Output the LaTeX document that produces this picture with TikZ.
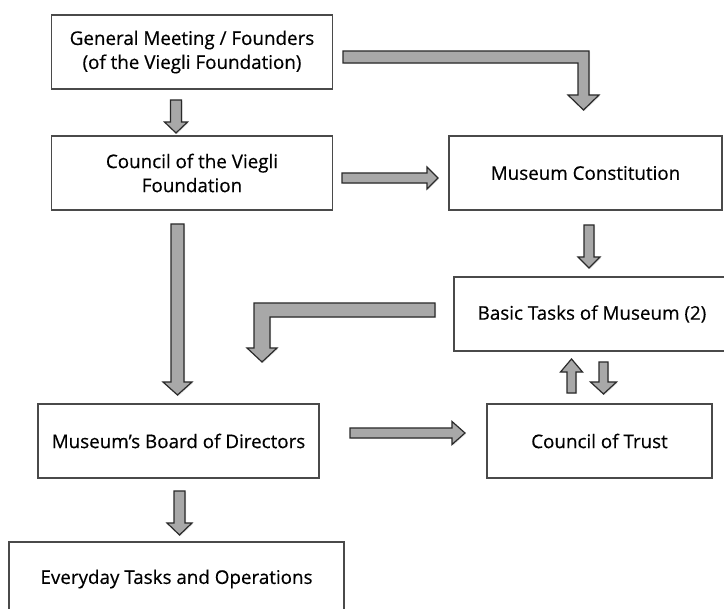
\documentclass[tikz,border=0pt]{standalone}
\usepackage{fontspec}
\setmainfont{Open Sans}
\newfontfamily\boxfont[FakeBold=0.45]{Open Sans}
\usetikzlibrary{shadows}
\definecolor{arrowfill}{HTML}{A8A8A8}
\definecolor{arrowline}{HTML}{2A2A2A}
\definecolor{boxline}{HTML}{4A4A4A}
\definecolor{txt}{HTML}{000000}
\tikzset{
  box/.style={draw=boxline, line width=1.1pt, fill=white, rectangle, align=center,
    text=txt, font=\boxfont\fontsize{18.8}{24}\selectfont, inner sep=0pt,
    drop shadow={opacity=0.18, shadow xshift=0.8pt, shadow yshift=-0.8pt}},
  blockarrow/.style={fill=arrowfill, draw=arrowline, line width=1.2pt, line join=miter,
    drop shadow={opacity=0.22, shadow xshift=1pt, shadow yshift=-1pt}}
}
% vertical block arrow: #1 x centre, #2 tail y, #3 head base y, #4 tip y, #5 shaft half, #6 head half
\newcommand\vblockarrow[6]{%
  \path[blockarrow] ({#1-#5},#2) -- ({#1+#5},#2) -- ({#1+#5},#3) -- ({#1+#6},#3) -- (#1,#4)
    -- ({#1-#6},#3) -- ({#1-#5},#3) -- cycle;}
% horizontal block arrow: #1 y centre, #2 tail x, #3 head base x, #4 tip x, #5 shaft half, #6 head half
\newcommand\hblockarrow[6]{%
  \path[blockarrow] (#2,{#1-#5}) -- (#3,{#1-#5}) -- (#3,{#1-#6}) -- (#4,#1)
    -- (#3,{#1+#6}) -- (#3,{#1+#5}) -- (#2,{#1+#5}) -- cycle;}
\begin{document}
\begin{tikzpicture}[x=1pt,y=-1pt]
\useasboundingbox[fill=white] (0,0) rectangle (724,609);

\node[box, minimum width=281pt, minimum height=74pt] (gm) at (192,52)
  {General Meeting / Founders\\(of the Viegli Foundation)};
\node[box, minimum width=281pt, minimum height=74pt] (cv) at (192,173)
  {Council of the Viegli\\Foundation};
\node[box, minimum width=273pt, minimum height=74pt] (mc) at (585.5,173)
  {Museum Constitution};
\node[box, minimum width=276pt, minimum height=74pt] (bt) at (592,314)
  {Basic Tasks of Museum (2)};
\node[box, minimum width=281pt, minimum height=74pt] (bd) at (178.5,441)
  {Museum’s Board of Directors};
\node[box, minimum width=225pt, minimum height=74pt] (ct) at (599.5,441)
  {Council of Trust};
\node[box, minimum width=335pt, minimum height=74pt] (et) at (176.5,579)
  {Everyday Tasks and Operations};

% General Meeting -> Council
\vblockarrow{176}{100}{122}{133}{5.5}{11.5}
% Council -> Board
\vblockarrow{177.5}{224}{382}{395}{6.5}{14.5}
% Board -> Everyday
\vblockarrow{179.5}{491}{523}{535}{5.5}{12.5}
% Constitution -> Basic tasks
\vblockarrow{589}{225}{257}{268}{5}{11}
% Basic tasks -> Council of Trust
\vblockarrow{603.5}{362}{382}{394}{4.5}{13}
% Council of Trust -> Basic tasks
\vblockarrow{571.5}{393}{372}{359}{4.5}{11}
% Council -> Constitution
\hblockarrow{178}{342}{427}{438}{5}{11}
% Board -> Council of Trust
\hblockarrow{433}{350}{452}{465}{5}{11.5}
% General Meeting -> Constitution (elbow)
\path[blockarrow] (343,51) -- (589,51) -- (589,95) -- (599,95) -- (583.5,110)
  -- (568,95) -- (578,95) -- (578,63) -- (343,63) -- cycle;
% Basic tasks -> Board (elbow)
\path[blockarrow] (435,303) -- (254,303) -- (254,348) -- (247,348) -- (262,362)
  -- (277,348) -- (270,348) -- (270,317) -- (435,317) -- cycle;
\end{tikzpicture}
\end{document}
